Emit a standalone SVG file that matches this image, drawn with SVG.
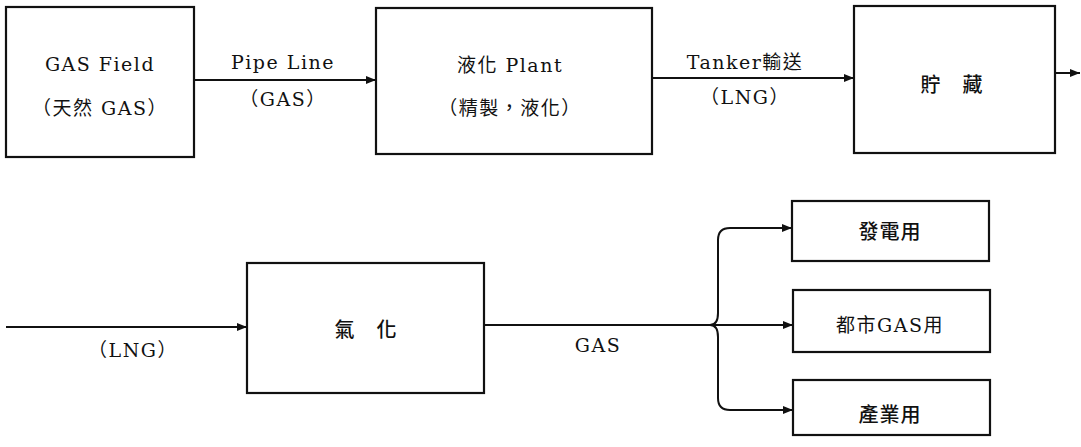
<svg xmlns="http://www.w3.org/2000/svg" width="1081" height="447" viewBox="0 0 1081 447">
<style>
.box{fill:#fff;stroke:#111;stroke-width:2.2}
.ln{fill:none;stroke:#111;stroke-width:2}
text{font-family:"DejaVu Serif","Liberation Serif","Noto Sans CJK TC",serif;font-size:19px;letter-spacing:1.5px;fill:#111;text-anchor:middle}
.cjk{font-size:20px;font-weight:500;letter-spacing:1px}
</style>
<defs>
<marker id="ah" viewBox="0 0 10 8" refX="10" refY="4" markerWidth="10" markerHeight="8" markerUnits="userSpaceOnUse" orient="auto">
<path d="M0,0 L10,4 L0,8 Z" fill="#111"/>
</marker>
</defs>
<g id="connectors">
<line class="ln" x1="194" y1="80" x2="376" y2="80" marker-end="url(#ah)"/>
<line class="ln" x1="652" y1="78" x2="854" y2="78" marker-end="url(#ah)"/>
<line class="ln" x1="1055" y1="73" x2="1080" y2="73" marker-end="url(#ah)"/>
<line class="ln" x1="6" y1="327" x2="247" y2="327" marker-end="url(#ah)"/>
<path class="ln" d="M484,325 L710,325"/>
<path class="ln" d="M710,325 Q718,325 718,313 L718,240 Q718,228 730,228 L792,228" marker-end="url(#ah)"/>
<path class="ln" d="M710,325 L793,325" marker-end="url(#ah)"/>
<path class="ln" d="M710,325 Q718,325 718,337 L718,398 Q718,410 730,410 L793,410" marker-end="url(#ah)"/>
<text x="283" y="69">Pipe Line</text>
<text x="283" y="106">（GAS）</text>
<text x="745" y="69">Tanker輸送</text>
<text x="745" y="104">（LNG）</text>
<text x="133" y="357">（LNG）</text>
<text x="598" y="352">GAS</text>
</g>
<g id="gasfield">
<rect class="box" x="6" y="7" width="188" height="150"/>
<text x="100" y="71">GAS Field</text>
<text x="100" y="115">（天然 GAS）</text>
</g>
<g id="plant">
<rect class="box" x="376" y="8" width="276" height="146"/>
<text x="510" y="72">液化 Plant</text>
<text x="510" y="115">（精製，液化）</text>
</g>
<g id="storage">
<rect class="box" x="854" y="6" width="201" height="147"/>
<text class="cjk" x="952" y="92">貯　藏</text>
</g>
<g id="vaporize">
<rect class="box" x="247" y="263" width="237" height="130"/>
<text class="cjk" x="366" y="337">氣　化</text>
</g>
<g id="power">
<rect class="box" x="792" y="201" width="197" height="60"/>
<text class="cjk" x="890" y="239">發電用</text>
</g>
<g id="citygas">
<rect class="box" x="793" y="290" width="197" height="62"/>
<text x="890" y="332">都市GAS用</text>
</g>
<g id="industry">
<rect class="box" x="793" y="380" width="197" height="55"/>
<text class="cjk" x="890" y="422">產業用</text>
</g>
</svg>
